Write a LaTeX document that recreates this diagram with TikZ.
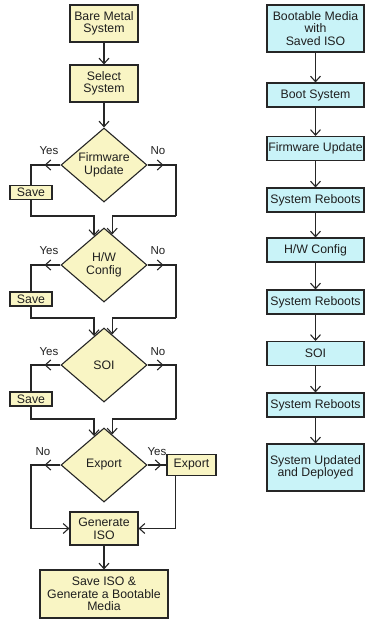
\documentclass[tikz,border=0pt]{standalone}
\usepackage{fontspec}
\setmainfont{Liberation Sans}
\usetikzlibrary{shapes.geometric,arrows.meta,calc}
\definecolor{ylw}{HTML}{F9F5C4}
\definecolor{cyn}{HTML}{C9F3F8}
\definecolor{edge}{HTML}{262626}
\begin{document}
\begin{tikzpicture}[x=1pt,y=-1pt,
  every node/.style={font=\fontsize{12.3}{12.6}\selectfont, text=black!88},
  ybox/.style={draw=edge, fill=ylw, line width=1.1pt, rectangle, align=center, inner sep=0pt},
  cbox/.style={draw=edge, fill=cyn, line width=1.1pt, rectangle, align=center, inner sep=0pt, minimum width=97pt},
  dec/.style={draw=edge, fill=ylw, line width=1.1pt, diamond, align=center, inner sep=0pt, minimum width=86pt, minimum height=74pt, aspect=1.16},
  conn/.style={draw=edge, line width=1.1pt, -{Straight Barb[length=5.5pt,width=10pt]}},
  wire/.style={draw=edge, line width=1.1pt},
  lab/.style={font=\fontsize{11.5}{12}\selectfont}
]
\useasboundingbox (0,0) rectangle (366,619);

% left column
\node[ybox, minimum width=68pt, minimum height=37pt] (bare) at (104,23.5) {Bare Metal\\System};
\node[ybox, minimum width=68pt, minimum height=37pt] (sel) at (104,83.5) {Select\\System};
\node[dec] (fw) at (104,165) {Firmware\\Update};
\node[dec] (hw) at (104,265) {H/W\\Config};
\node[dec] (soi) at (104,365) {SOI};
\node[dec] (ex) at (104,465) {Export};
\node[ybox, minimum width=42pt, minimum height=14pt] (s1) at (31,192.5) {Save};
\node[ybox, minimum width=42pt, minimum height=14pt] (s2) at (31,299) {Save};
\node[ybox, minimum width=42pt, minimum height=14pt] (s3) at (31,399) {Save};
\node[ybox, minimum width=49pt, minimum height=21pt] (xb) at (191.5,465) {Export};
\node[ybox, minimum width=68pt, minimum height=33pt] (gen) at (104,528.5) {Generate\\ISO};
\node[ybox, minimum width=128pt, minimum height=48pt] (sav) at (104,594) {Save ISO \&\\Generate a Bootable\\Media};

\node[lab] (y1) at (49,151) {Yes};
\node[lab] (n1) at (158,151) {No};
\node[lab] (y2) at (49,251) {Yes};
\node[lab] (n2) at (158,251) {No};
\node[lab] (y3) at (49,352) {Yes};
\node[lab] (n3) at (158,352) {No};
\node[lab] (n4) at (43,452) {No};
\node[lab] (y4) at (157,452) {Yes};

\coordinate (j1l) at (31,216);
\coordinate (j1r) at (176,216);
\coordinate (j2l) at (31,318);
\coordinate (j2r) at (176,318);
\coordinate (j3l) at (31,419);
\coordinate (j3r) at (176,419);
\coordinate (j4l) at (31,528.5);
\coordinate (xbs) at ($(xb.south west)+(9,0)$);

\draw[conn] (bare) -- (sel);
\draw[conn] (sel) -- (fw);

% firmware
\draw[wire] (fw.west) -| (s1.north);
\draw[conn] (fw.west) -- ++(-16,0);
\draw[wire] (fw.east) -| (j1r);
\draw[conn] (fw.east) -- ++(16,0);
\draw[conn] (s1.south) -- (j1l) -| (hw.109);
\draw[conn] (j1r) -| (hw.75);

% hw config
\draw[wire] (hw.west) -| (s2.north);
\draw[conn] (hw.west) -- ++(-16,0);
\draw[wire] (hw.east) -| (j2r);
\draw[conn] (hw.east) -- ++(16,0);
\draw[conn] (s2.south) -- (j2l) -| (soi.109);
\draw[conn] (j2r) -| (soi.75);

% soi
\draw[wire] (soi.west) -| (s3.north);
\draw[conn] (soi.west) -- ++(-16,0);
\draw[wire] (soi.east) -| (j3r);
\draw[conn] (soi.east) -- ++(16,0);
\draw[conn] (s3.south) -- (j3l) -| (ex.109);
\draw[conn] (j3r) -| (ex.75);

% export
\draw[conn] (ex.west) -| (j4l) -- (gen.west);
\draw[conn] (ex.west) -- ++(-16,0);
\draw[wire] (ex.east) -- (xb.west);
\draw[conn] (ex.east) -- ++(14,0);
\draw[conn] (xbs) |- (gen.east);
\draw[conn] (gen) -- (sav);

% right column
\node[cbox, minimum height=47pt] (bm) at (315.5,28.5) {Bootable Media\\with\\Saved ISO};
\node[cbox, minimum height=24pt] (boot) at (315.5,95) {Boot System};
\node[cbox, minimum height=24pt] (fwu) at (315.5,148.5) {Firmware Update};
\node[cbox, minimum height=24pt] (sr1) at (315.5,200) {System Reboots};
\node[cbox, minimum height=24pt] (hwc) at (315.5,250) {H/W Config};
\node[cbox, minimum height=24pt] (sr2) at (315.5,302) {System Reboots};
\node[cbox, minimum height=24pt] (soic) at (315.5,353.5) {SOI};
\node[cbox, minimum height=24pt] (sr3) at (315.5,405) {System Reboots};
\node[cbox, minimum height=47pt] (done) at (315.5,467.5) {System Updated\\and Deployed};

\draw[conn] (bm) -- (boot);
\draw[conn] (boot) -- (fwu);
\draw[conn] (fwu) -- (sr1);
\draw[conn] (sr1) -- (hwc);
\draw[conn] (hwc) -- (sr2);
\draw[conn] (sr2) -- (soic);
\draw[conn] (soic) -- (sr3);
\draw[conn] (sr3) -- (done);
\end{tikzpicture}
\end{document}
